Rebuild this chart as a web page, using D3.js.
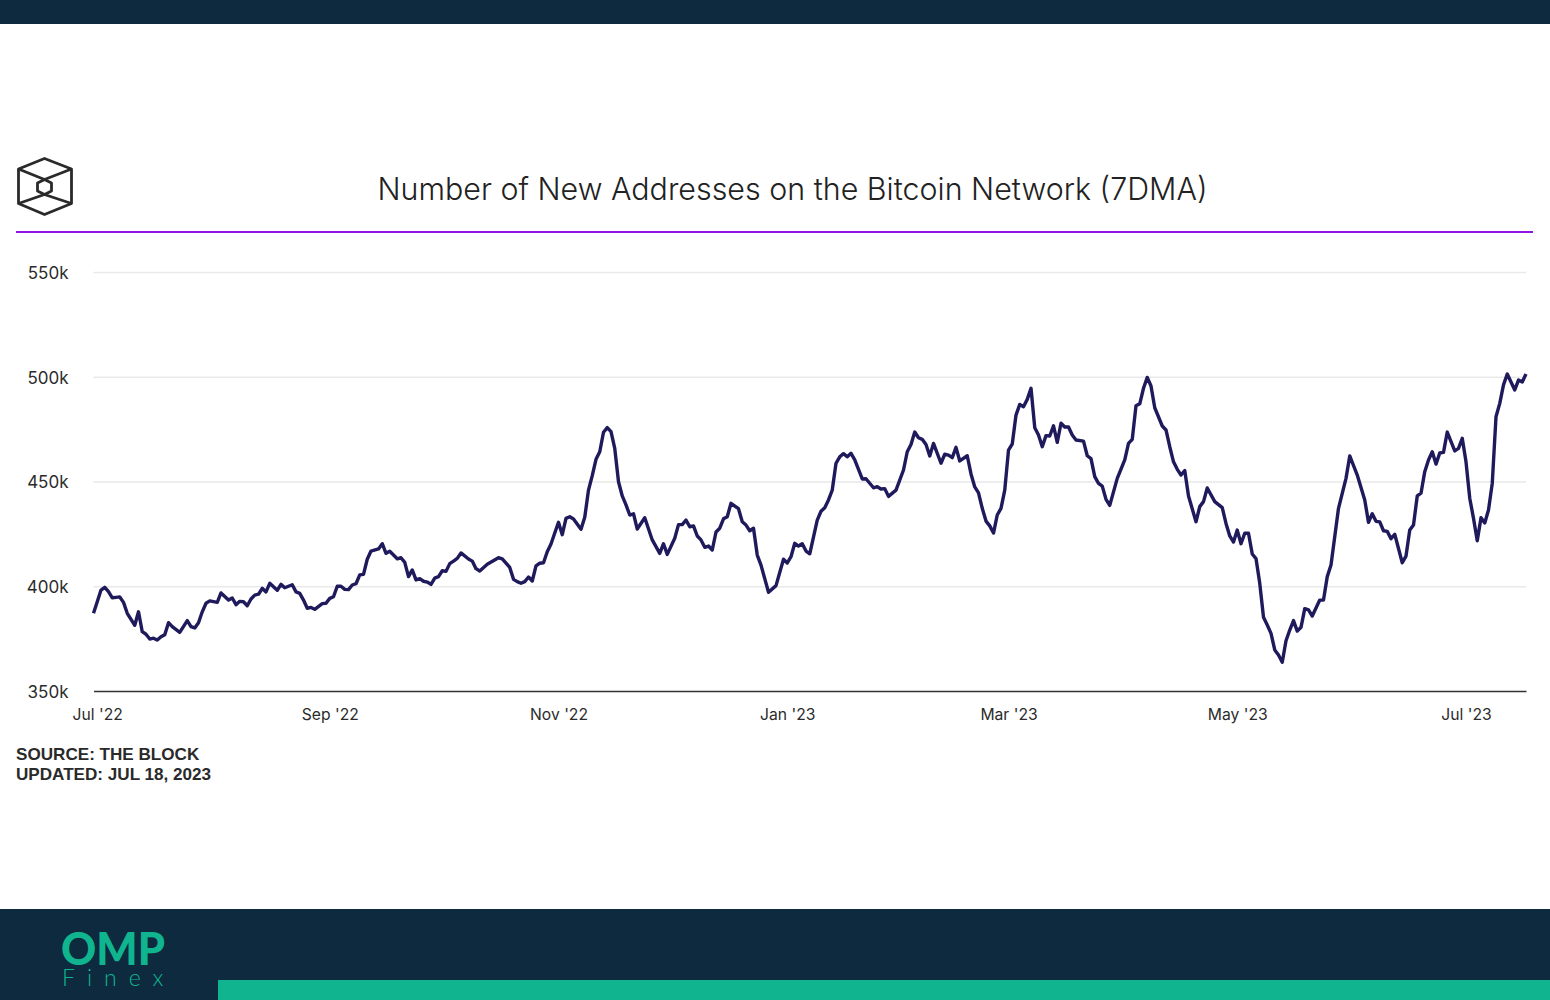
<!DOCTYPE html>
<meta charset="utf-8">
<style>

body {
  margin: 0;
  background: #fff;
}

.grid line {
  stroke: #e9e9e9;
  stroke-width: 1.5px;
}

.y.axis text {
  font: 17px Inter, sans-serif;
  fill: #2b2b2b;
}

.x.axis text {
  font: 15.7px Inter, sans-serif;
  fill: #2b2b2b;
}

.line {
  fill: none;
  stroke: #1f1a5c;
  stroke-width: 3.4px;
  stroke-linejoin: round;
}

.logo path {
  fill: none;
  stroke: #2a2a2a;
  stroke-width: 2.8px;
  stroke-linejoin: round;
}

</style>
<body>
<script src="https://cdnjs.cloudflare.com/ajax/libs/d3/7.8.5/d3.min.js"></script>
<div id="container"></div>

<script>

// Series: days since 30 Jun 2022, value in thousands
var startDate = new Date(2022, 5, 30);
var endDate = new Date(2023, 6, 17);

var dayOffsets = [
  0,1,2,3,4,5,6,7,8,9,10,11,12,13,14,15,16,17,18,19,20,21,23,25,26,27,28,29,30,31,33,34,36,37,38,39,40,41,42,43,44,45,46,47,49,50,51,53,54,55,56,57,58,59,
  61,62,63,64,65,66,67,68,69,70,71,72,73,74,76,77,78,79,81,82,83,84,85,86,87,88,89,90,91,92,93,94,95,96,97,98,100,101,102,103,105,108,109,111,112,113,114,115,116,117,118,119,120,
  121,122,123,124,125,126,127,128,130,131,132,133,134,135,136,137,138,139,140,141,142,143,144,145,147,149,151,152,153,155,156,157,158,159,160,161,162,163,164,165,166,167,168,169,170,172,173,174,175,176,177,178,180,
  182,184,185,186,187,188,189,190,191,193,194,195,196,197,198,199,200,201,202,203,205,206,208,209,210,211,212,214,216,217,218,219,220,221,222,223,224,226,227,228,229,230,231,233,234,235,236,237,238,239,240,
  241,242,243,244,245,246,247,248,249,250,251,252,253,254,255,256,257,258,259,260,261,262,264,265,266,267,268,269,270,271,273,275,276,277,278,279,280,281,282,283,285,286,287,288,289,290,291,292,294,295,296,297,299,
  301,302,303,304,305,306,307,308,309,310,311,312,313,314,315,316,317,318,319,320,321,322,323,324,325,327,328,329,330,332,334,335,337,339,340,341,342,343,344,345,346,347,349,350,351,352,353,354,355,356,357,358,359,360,
  361,363,364,365,366,367,368,369,370,371,372,373,374,375,376,377,378,379,380,381,382
];

var newAddresses = [
  387.1,392.6,398.2,399.5,397.4,394.5,394.7,394.9,392.3,387.1,384.2,381.4,387.8,378.3,377.1,374.8,375.2,374.3,375.9,376.9,382.6,380.7,378.0,383.6,380.7,380.1,382.6,387.8,391.9,393,392.3,396.8,393.4,394.4,391.2,392.8,392.6,390.7,393.9,395.8,396.2,399,397.3,401.4,398.1,400.9,399.3,400.7,397.3,396.6,393.4,389.5,389.9,389,
  391.7,391.9,394.2,395,400,400,398.5,398.4,400.6,401.2,405.4,405.7,412.9,416.8,417.8,420.3,415.7,416.7,413.1,413.6,411.4,404.6,407.8,403,403.6,402.4,402,400.9,403.9,404.6,407.4,407.1,410.8,412,413.3,415.9,413,412,408.4,407.3,410.5,413.6,413.1,409,403.3,402.2,401.4,402.2,404.4,402.5,409.7,411,411.2,
  416.5,420.2,425.4,430.5,424.6,432.4,433.2,432.1,427.2,432.9,445.9,452.8,460.6,464.2,473.5,475.7,473.8,465.8,449.9,443.1,438.8,434,434.6,427.3,432.7,422.1,415.7,420.3,415.2,422.9,429.4,429.4,431.6,428.4,428.8,424,422.1,418.6,419.2,417.3,425.9,427.7,432.2,433.2,439.6,437,430.8,429.2,426.5,427.7,414.9,410.1,397.1,
  400.3,412.9,411.1,414.1,420.5,419.2,420.3,416.8,415.5,431.6,435.8,437.5,441.2,445.9,458.7,461.8,463.3,461.8,463.5,460.3,451.2,451.3,447,447.5,446.4,446.6,442.9,445.9,455.5,464.2,467.7,473.6,470.9,470.1,467.7,462.2,468.2,458.7,463,462.6,461.4,466.3,459.8,462.3,453.6,447.4,444.6,437.2,431.1,428.8,425.4,
  434,437.2,445.9,465,467.9,481.7,486.8,485.7,489.2,494.5,475.7,472.2,466.6,471.9,471.7,476.6,468.7,477.8,476,476,472.2,469.8,469.3,462.3,460.9,452.3,449.1,447.8,441.5,438.6,451.5,460.3,468.2,470.1,486.2,487.1,494.5,499.7,495.6,485.2,476.5,474.6,466.6,459.4,455.8,453.1,455.2,443.1,430.8,438,440.4,446.9,440.4,
  437.5,430,424,421.1,426.8,420.3,425.3,425.3,415.4,413.2,401.4,385.2,381.5,377.5,369.6,367.2,363.7,374,379.1,383.6,378.6,380.4,389.3,388.7,385.8,393.4,393.4,404.6,410.1,437.2,451.5,462.2,453.1,441.2,430.5,434.6,431,430.7,426.5,426.2,422.7,424.8,411.2,414.4,426.8,429.2,443.1,444.4,454.7,460.3,464.2,458.3,463.6,463.9,
  473.6,464.6,465.8,470.6,459.4,442,432.4,421.7,432.7,430.2,436.4,449.1,480.9,487.3,496.1,501.3,497.5,493.7,498.4,497.5,501.3
];

var yTicks = [350, 400, 450, 500, 550];
var xTicks = [
  new Date(2022, 6, 1), new Date(2022, 8, 1), new Date(2022, 10, 1),
  new Date(2023, 0, 1), new Date(2023, 2, 1), new Date(2023, 4, 1), new Date(2023, 6, 1)
];

var titleText = "Number of New Addresses on the Bitcoin Network (7DMA)";
var sourceLines = ["SOURCE: THE BLOCK", "UPDATED: JUL 18, 2023"];

var width = 1550, height = 1000;

var svg = d3.select("#container")
    .append("svg")
        .attr("width", width)
        .attr("height", height)
        .style("display", "block");

// Top and bottom bands
svg.append("rect").attr("width", width).attr("height", 24).attr("fill", "#0d2a3e");
svg.append("rect").attr("y", 909).attr("width", width).attr("height", 91).attr("fill", "#0d2a3e");
svg.append("rect").attr("x", 218).attr("y", 980).attr("width", 1332).attr("height", 20).attr("fill", "#10b58f");

svg.append("text")
    .attr("x", 61).attr("y", 965)
    .attr("textLength", 104).attr("lengthAdjust", "spacingAndGlyphs")
    .style("font", "900 45px Lato, sans-serif")
    .attr("fill", "#10b58f")
    .text("OMP");

svg.append("text")
    .attr("x", 62).attr("y", 986)
    .style("font", "300 23px Lato, sans-serif")
    .style("letter-spacing", "12px")
    .attr("fill", "#10b58f")
    .text("Finex");

// The Block logo
var logo = svg.append("g").attr("class", "logo");
logo.append("path").attr("d", "M44.5 158.5L71.5 169V203.5L44.5 214.5L18.5 203.5V169Z");
logo.append("path").attr("d", "M44.5 179.5L51.5 183V191L44.5 194.5L37.5 191V183Z");
logo.append("path").attr("d", "M18.5 169L44.5 179.5L71.5 169M18.5 203.5L44.5 194.5L71.5 203.5");

svg.append("text")
    .attr("x", 792.5).attr("y", 199.5)
    .attr("text-anchor", "middle")
    .attr("textLength", 830).attr("lengthAdjust", "spacingAndGlyphs")
    .style("font", "300 31px Inter, sans-serif")
    .attr("fill", "#222")
    .text(titleText);

svg.append("line")
    .attr("x1", 16).attr("x2", 1533)
    .attr("y1", 232).attr("y2", 232)
    .attr("stroke", "#8f14e6")
    .attr("stroke-width", 2);

// Set the ranges
var x = d3.scaleTime().domain([startDate, endDate]).range([93.5, 1526]);
var y = d3.scaleLinear().domain([350, 550]).range([691, 272]);

// Gridlines and y labels
var yAxis = d3.axisLeft(y)
    .tickValues(yTicks)
    .tickSize(-(1526 - 93.5))
    .tickPadding(25)
    .tickFormat(function(d) { return d + "k"; });

var yG = svg.append("g")
    .attr("class", "y axis grid")
    .attr("transform", "translate(93.5,0)")
    .call(yAxis);
yG.select(".domain").remove();
yG.selectAll(".tick").filter(function(d) { return d === 350; }).select("line").remove();
yG.selectAll(".tick text").attr("dy", "0.38em");

// X axis
var xAxis = d3.axisBottom(x)
    .tickValues(xTicks)
    .tickSize(0)
    .tickPadding(18)
    .tickFormat(d3.timeFormat("%b '%y"));

var xG = svg.append("g")
    .attr("class", "x axis")
    .attr("transform", "translate(0,691)")
    .call(xAxis);
xG.select(".domain")
    .attr("stroke", "#333")
    .attr("stroke-width", 1.5);

// Add the valueline path
var points = dayOffsets.map(function(d, i) {
  return {date: d3.timeDay.offset(startDate, d), value: newAddresses[i]};
});

var valueline = d3.line()
    .x(function(d) { return x(d.date); })
    .y(function(d) { return y(d.value); });

svg.append("path")
    .attr("class", "line")
    .attr("d", valueline(points));

// Source note
svg.selectAll(".source")
    .data(sourceLines)
    .enter().append("text")
    .attr("class", "source")
    .attr("x", 16)
    .attr("y", function(d, i) { return 760 + i * 20; })
    .style("font", "bold 17.1px 'Liberation Sans', sans-serif")
    .attr("fill", "#2a2a2a")
    .text(function(d) { return d; });

</script>
</body>
